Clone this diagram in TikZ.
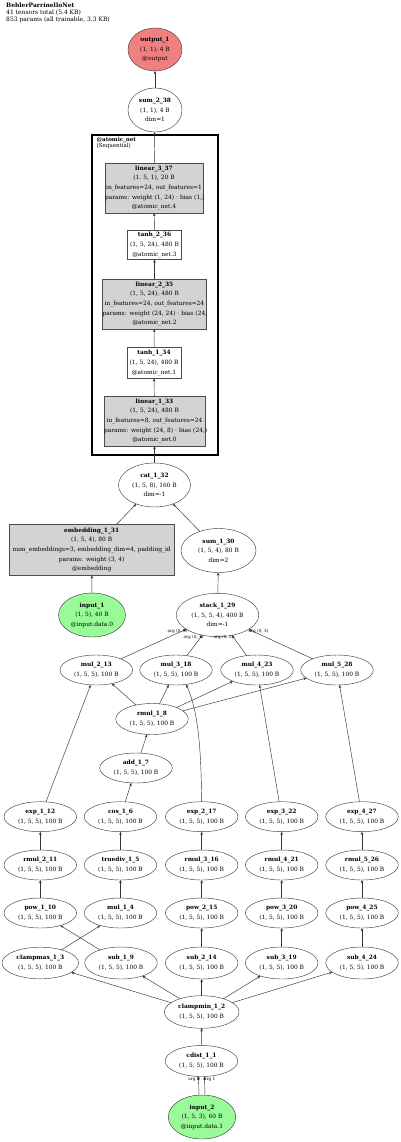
\documentclass[tikz,border=0pt]{standalone}
\usepackage{fontspec}
\setmainfont{DejaVu Serif}
\usetikzlibrary{shapes.geometric,arrows.meta}
\definecolor{incol}{HTML}{98FB98}
\definecolor{outcol}{HTML}{F08080}
\definecolor{modcol}{HTML}{D3D3D3}
\newcommand{\nfont}{\fontsize{5.9}{9.6}\selectfont}
\begin{document}
\begin{tikzpicture}[x=1pt,y=-1pt,
 op/.style={ellipse,draw=black!75,line width=0.45pt,inner sep=0pt,outer sep=0pt,minimum width=72.6pt,minimum height=30pt,align=center,font=\nfont},
 tall/.style={op,minimum height=44pt},
 modbox/.style={rectangle,draw=black!70,line width=0.45pt,fill=modcol,inner sep=0pt,outer sep=0pt,align=center,font=\nfont},
 plainbox/.style={modbox,fill=white},
 conn/.style={-{Stealth[length=3.2pt,width=2.6pt]},line width=0.45pt,draw=black!80},
 elbl/.style={font=\fontsize{4.2}{4.2}\selectfont,inner sep=0pt}
]
\useasboundingbox[fill=white] (0,0) rectangle (400,1142);

% header
\node[anchor=north west,align=left,font=\fontsize{6}{7}\selectfont,inner sep=0pt] (hdr) at (6,2.5)
 {\textbf{BehlerParrinelloNet}\\41 tensors total (5.4 KB)\\853 params (all trainable, 3.3 KB)};

% top
\node[op,fill=outcol,minimum width=54pt,minimum height=43pt] (out) at (155,49.5) {\textbf{output\_1}\\(1, 1), 4 B\\@output};
\node[tall,minimum width=54pt] (sum2) at (155,110) {\textbf{sum\_2\_38}\\(1, 1), 4 B\\dim=1};

% cluster
\node[draw,line width=2.6pt,minimum width=126pt,minimum height=320pt,inner sep=0pt,outer sep=0pt] (clu) at (155,295) {};
\node[anchor=north west,align=left,font=\fontsize{5.5}{5.8}\selectfont,inner sep=0pt] (clulbl) at (96.5,137.5) {\textbf{@atomic\_net}\\(Sequential)};

\node[modbox,text width=98pt,minimum height=50pt] (lin3) at (154,188)
 {\textbf{linear\_3\_37}\\(1, 5, 1), 20 B\\\mbox{in\_features=24, out\_features=1}\\\mbox{params: weight (1, 24) · bias (1,)}\\@atomic\_net.4};
\node[plainbox,text width=54pt,minimum height=29pt] (tanh2) at (154.5,245)
 {\textbf{tanh\_2\_36}\\(1, 5, 24), 480 B\\@atomic\_net.3};
\node[modbox,text width=104pt,minimum height=50pt] (lin2) at (154.5,304)
 {\textbf{linear\_2\_35}\\(1, 5, 24), 480 B\\\mbox{in\_features=24, out\_features=24}\\\mbox{params: weight (24, 24) · bias (24,}\\@atomic\_net.2};
\node[plainbox,text width=54pt,minimum height=31pt] (tanh1) at (154,363)
 {\textbf{tanh\_1\_34}\\(1, 5, 24), 480 B\\@atomic\_net.1};
\node[modbox,text width=101pt,minimum height=50pt] (lin1) at (154.5,421)
 {\textbf{linear\_1\_33}\\(1, 5, 24), 480 B\\\mbox{in\_features=8, out\_features=24}\\\mbox{params: weight (24, 8) · bias (24,)}\\@atomic\_net.0};

% middle
\node[tall,minimum width=72pt] (cat) at (154.5,485) {\textbf{cat\_1\_32}\\(1, 5, 8), 160 B\\dim=-1};
\node[modbox,text width=164.7pt,minimum height=50.7pt] (emb) at (91.7,550)
 {\textbf{embedding\_1\_31}\\(1, 5, 4), 80 B\\\mbox{num\_embeddings=3, embedding\_dim=4, padding\_id}\\params: weight (3, 4)\\@embedding};
\node[tall,minimum width=75pt] (sum1) at (218.5,550.5) {\textbf{sum\_1\_30}\\(1, 5, 4), 80 B\\dim=2};
\node[tall,fill=incol,minimum width=67pt] (in1) at (92,615) {\textbf{input\_1}\\(1, 5), 40 B\\@input.data.0};
\node[tall,minimum width=82.6pt,minimum height=43.4pt] (stack) at (217.5,615) {\textbf{stack\_1\_29}\\(1, 5, 5, 4), 400 B\\dim=-1};

\node[op] (mul2) at (96.3,670) {\textbf{mul\_2\_13}\\(1, 5, 5), 100 B};
\node[op] (mul3) at (176,670) {\textbf{mul\_3\_18}\\(1, 5, 5), 100 B};
\node[op] (mul4) at (257,670) {\textbf{mul\_4\_23}\\(1, 5, 5), 100 B};
\node[op] (mul5) at (337,670) {\textbf{mul\_5\_28}\\(1, 5, 5), 100 B};
\node[op,minimum height=31pt] (rmul1) at (152,719) {\textbf{rmul\_1\_8}\\(1, 5, 5), 100 B};
\node[op] (add1) at (136,768) {\textbf{add\_1\_7}\\(1, 5, 5), 100 B};

\node[op] (exp1) at (40.3,816.7) {\textbf{exp\_1\_12}\\(1, 5, 5), 100 B};
\node[op] (cos1) at (120.5,816.7) {\textbf{cos\_1\_6}\\(1, 5, 5), 100 B};
\node[op] (exp2) at (201.7,816.7) {\textbf{exp\_2\_17}\\(1, 5, 5), 100 B};
\node[op] (exp3) at (281.7,816.7) {\textbf{exp\_3\_22}\\(1, 5, 5), 100 B};
\node[op] (exp4) at (362,816.7) {\textbf{exp\_4\_27}\\(1, 5, 5), 100 B};

\node[op] (rmul2) at (40.3,865) {\textbf{rmul\_2\_11}\\(1, 5, 5), 100 B};
\node[op] (tdiv) at (120.5,865) {\textbf{truediv\_1\_5}\\(1, 5, 5), 100 B};
\node[op] (rmul3) at (201.7,865) {\textbf{rmul\_3\_16}\\(1, 5, 5), 100 B};
\node[op] (rmul4) at (281.7,865) {\textbf{rmul\_4\_21}\\(1, 5, 5), 100 B};
\node[op] (rmul5) at (362,865) {\textbf{rmul\_5\_26}\\(1, 5, 5), 100 B};

\node[op] (pow1) at (40.3,913) {\textbf{pow\_1\_10}\\(1, 5, 5), 100 B};
\node[op] (mul1) at (120.5,913) {\textbf{mul\_1\_4}\\(1, 5, 5), 100 B};
\node[op] (pow2) at (201.7,913) {\textbf{pow\_2\_15}\\(1, 5, 5), 100 B};
\node[op] (pow3) at (281.7,913) {\textbf{pow\_3\_20}\\(1, 5, 5), 100 B};
\node[op] (pow4) at (362,913) {\textbf{pow\_4\_25}\\(1, 5, 5), 100 B};

\node[op,minimum width=76.6pt,minimum height=31.6pt] (cmax) at (40.3,963) {\textbf{clampmax\_1\_3}\\(1, 5, 5), 100 B};
\node[op,minimum height=32pt] (sub1) at (121,963) {\textbf{sub\_1\_9}\\(1, 5, 5), 100 B};
\node[op,minimum height=32pt] (sub2) at (201.7,963) {\textbf{sub\_2\_14}\\(1, 5, 5), 100 B};
\node[op,minimum height=32pt] (sub3) at (281.7,963) {\textbf{sub\_3\_19}\\(1, 5, 5), 100 B};
\node[op,minimum height=32pt] (sub4) at (362,963) {\textbf{sub\_4\_24}\\(1, 5, 5), 100 B};

\node[op,minimum width=74.7pt,minimum height=32.6pt] (cmin) at (201.7,1012) {\textbf{clampmin\_1\_2}\\(1, 5, 5), 100 B};
\node[op,minimum height=31pt] (cdist) at (201.5,1061) {\textbf{cdist\_1\_1}\\(1, 5, 5), 100 B};
\node[tall,fill=incol,minimum width=67.4pt] (in2) at (202,1117) {\textbf{input\_2}\\(1, 5, 3), 60 B\\@input.data.1};

% edges
\draw[conn] (sum2) -- (out);
\draw[conn] (lin3) -- (sum2);
\draw[conn] (tanh2) -- (lin3);
\draw[conn] (lin2) -- (tanh2);
\draw[conn] (tanh1) -- (lin2);
\draw[conn] (lin1) -- (tanh1);
\draw[conn] (cat) -- (lin1);
\draw[conn] (emb) -- (cat);
\draw[conn] (sum1) -- (cat);
\draw[conn] (in1) -- (emb);
\draw[conn] (stack) -- (sum1);

\draw[conn] (mul2) -- (stack);
\draw[conn] (mul3) -- (stack);
\draw[conn] (mul4) -- (stack);
\draw[conn] (mul5) -- (stack);
\node[elbl] (l00) at (177.5,631) {arg (0, 0)};
\node[elbl] (l01) at (193.5,637) {arg (0, 1)};
\node[elbl] (l02) at (223.5,637) {arg (0, 2)};
\node[elbl] (l03) at (258.5,631) {arg (0, 3)};

\draw[conn] (rmul1) -- (mul2);
\draw[conn] (rmul1) -- (mul3);
\draw[conn] (rmul1) -- (mul4);
\draw[conn] (rmul1) -- (mul5);
\draw[conn] (add1) -- (rmul1);
\draw[conn] (cos1) -- (add1);

\draw[conn] (exp1) -- (mul2);
\draw[conn] (exp2.north) .. controls (201,760) and (200,715) .. (mul3.-55);
\draw[conn] (exp3) -- (mul4);
\draw[conn] (exp4) -- (mul5);

\draw[conn] (rmul2) -- (exp1);
\draw[conn] (tdiv) -- (cos1);
\draw[conn] (rmul3) -- (exp2);
\draw[conn] (rmul4) -- (exp3);
\draw[conn] (rmul5) -- (exp4);

\draw[conn] (pow1) -- (rmul2);
\draw[conn] (mul1) -- (tdiv);
\draw[conn] (pow2) -- (rmul3);
\draw[conn] (pow3) -- (rmul4);
\draw[conn] (pow4) -- (rmul5);

\draw[conn] (sub1) -- (pow1);
\draw[conn] (cmax) -- (mul1);
\draw[conn] (sub2) -- (pow2);
\draw[conn] (sub3) -- (pow3);
\draw[conn] (sub4) -- (pow4);

\draw[conn] (cmin) -- (cmax);
\draw[conn] (cmin) -- (sub1);
\draw[conn] (cmin) -- (sub2);
\draw[conn] (cmin) -- (sub3);
\draw[conn] (cmin) -- (sub4);
\draw[conn] (cdist) -- (cmin);

\draw[conn] ([xshift=-3pt]in2.north) -- ([xshift=-3pt]cdist.south);
\draw[conn] ([xshift=3pt]in2.north) -- ([xshift=3pt]cdist.south);
\node[elbl] (la0) at (194,1079) {arg 0};
\node[elbl] (la1) at (209.7,1079) {arg 1};
\end{tikzpicture}
\end{document}
